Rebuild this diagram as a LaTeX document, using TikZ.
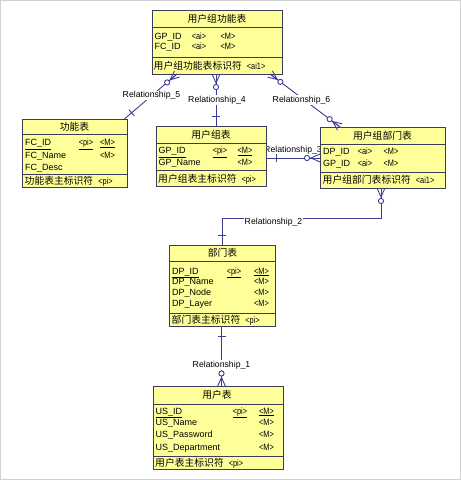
\documentclass[tikz,border=0pt]{standalone}
\usepackage{fontspec}
\setmainfont{Liberation Sans}
\newfontfamily\cjk{Noto Sans CJK SC}
\usetikzlibrary{calc}
\definecolor{boxc}{RGB}{60,60,90}
\definecolor{linec}{RGB}{60,60,150}
\definecolor{fillc}{RGB}{255,255,153}
\newcommand\tg[1]{{\fontsize{9.2}{10}\selectfont\scalebox{0.8}[1]{#1}}}
\newcommand\cj[1]{{\cjk #1}}
\tikzset{
  tbl/.style={draw=boxc, fill=fillc, line width=0.9pt, inner sep=0pt, outer sep=0pt, anchor=north west},
  sepl/.style={draw=boxc, line width=0.9pt},
  ttl/.style={font=\cjk\fontsize{9.8}{11}\selectfont, inner sep=0pt, text height=8.2pt, text depth=1.2pt},
  att/.style={font=\fontsize{9}{10}\selectfont, inner sep=0pt, anchor=west, text height=6.6pt, text depth=1.6pt},
  tgs/.style={inner sep=0pt, text height=6.6pt, text depth=1.6pt},
  idt/.style={font=\fontsize{9.8}{11}\selectfont, inner sep=0pt, anchor=west, text height=8.2pt, text depth=1.4pt},
  rel/.style={draw=linec, line width=0.9pt},
  rlab/.style={font=\fontsize{8.7}{10}\selectfont, fill=white, inner sep=0.6pt},
  rlabn/.style={font=\fontsize{8.7}{10}\selectfont, inner sep=0.6pt},
}
\newcommand\manyend[2]{%
  \draw[rel] (#1) -- ($(#1)!9pt!(#2)$);
  \draw[rel] ($(#1)!4pt!90:(#2)$) -- ($(#1)!9pt!(#2)$) -- ($(#1)!4pt!-90:(#2)$);
  \draw[rel, fill=white] ($(#1)!13pt!(#2)$) circle (2.6pt);
}
\newcommand\oneend[2]{%
  \coordinate (tmpc) at ($(#1)!10pt!(#2)$);
  \draw[rel] ($(tmpc)!4pt!90:(#2)$) -- ($(tmpc)!4pt!-90:(#2)$);
}
\begin{document}
\begin{tikzpicture}[x=1pt,y=-1pt]
\useasboundingbox (0,0) rectangle (461,480);
\draw[black!18] (0.5,0.5) rectangle (460.5,479.5);

% label partly hidden behind the tables
\node[rlabn] (l3) at (293,150) {Relationship\_3};

% ---------- 用户组功能表 ----------
\node[tbl, minimum width=130pt, minimum height=63.5pt] (t1) at (152,10.5) {};
\draw[sepl] (152,27) -- (282,27);
\draw[sepl] (152,57.5) -- (282,57.5);
\node[ttl] (t1t) at (217,18.8) {用户组功能表};
\node[att] (t1a) at (154.5,37) {GP\_ID};
\node[tgs] (t1b) at (199,37) {\tg{<ai>}};
\node[tgs] (t1c) at (228,37) {\tg{<M>}};
\node[att] (t1d) at (154.5,47.3) {FC\_ID};
\node[tgs] (t1e) at (199,47.3) {\tg{<ai>}};
\node[tgs] (t1f) at (228,47.3) {\tg{<M>}};
\node[idt] (t1i) at (153.5,65.8) {\cj{用户组功能表标识符}\hspace{5pt}\tg{<ai1>}};

% ---------- 功能表 ----------
\node[tbl, minimum width=105pt, minimum height=68pt] (t2) at (22,119.3) {};
\draw[sepl] (22,134.3) -- (127,134.3);
\draw[sepl] (22,174.3) -- (127,174.3);
\node[ttl] (t2t) at (74.5,127) {功能表};
\node[att] (t2a) at (25,143.3) {\underline{FC\_ID}};
\node[tgs] (t2b) at (86,143.3) {\tg{\underline{<pi>}}};
\node[tgs] (t2c) at (107.5,143.3) {\tg{\underline{<M>}}};
\node[att] (t2d) at (25,155.7) {FC\_Name};
\node[tgs] (t2e) at (107.5,155.7) {\tg{<M>}};
\node[att] (t2f) at (25,168) {FC\_Desc};
\node[idt] (t2i) at (24.5,181) {\cj{功能表主标识符}\hspace{5pt}\tg{<pi>}};

% ---------- 用户组表 ----------
\node[tbl, minimum width=110pt, minimum height=60pt] (t3) at (156,126.7) {};
\draw[sepl] (156,143.3) -- (266,143.3);
\draw[sepl] (156,170.3) -- (266,170.3);
\node[ttl] (t3t) at (211,135) {用户组表};
\node[att] (t3a) at (158.5,151.2) {\underline{GP\_ID}};
\node[tgs] (t3b) at (220,151.2) {\tg{\underline{<pi>}}};
\node[tgs] (t3c) at (245,151.2) {\tg{\underline{<M>}}};
\node[att] (t3d) at (158.5,163.2) {GP\_Name};
\node[tgs] (t3e) at (245,163.2) {\tg{<M>}};
\node[idt] (t3i) at (158,178.6) {\cj{用户组表主标识符}\hspace{5pt}\tg{<pi>}};

% ---------- 用户组部门表 ----------
\node[tbl, minimum width=125pt, minimum height=61pt] (t4) at (320,127) {};
\draw[sepl] (320,144) -- (445,144);
\draw[sepl] (320,172) -- (445,172);
\node[ttl] (t4t) at (382.5,135.5) {用户组部门表};
\node[att] (t4a) at (323,151.5) {DP\_ID};
\node[tgs] (t4b) at (365,151.5) {\tg{<ai>}};
\node[tgs] (t4c) at (391,151.5) {\tg{<M>}};
\node[att] (t4d) at (323,163.5) {GP\_ID};
\node[tgs] (t4e) at (365,163.5) {\tg{<ai>}};
\node[tgs] (t4f) at (391,163.5) {\tg{<M>}};
\node[idt] (t4i) at (322.5,180.2) {\cj{用户组部门表标识符}\hspace{5pt}\tg{<ai1>}};

% ---------- 部门表 ----------
\node[tbl, minimum width=106.5pt, minimum height=81pt] (t5) at (169,245) {};
\draw[sepl] (169,261) -- (275.5,261);
\draw[sepl] (169,313.5) -- (275.5,313.5);
\node[ttl] (t5t) at (222.5,253) {部门表};
\node[att] (t5a) at (172,271.5) {\underline{DP\_ID}};
\node[tgs] (t5b) at (234,271.5) {\tg{\underline{<pi>}}};
\node[tgs] (t5c) at (261.5,271.5) {\tg{\underline{<M>}}};
\node[att] (t5d) at (172,282) {DP\_Name};
\node[tgs] (t5e) at (261.5,282) {\tg{<M>}};
\node[att] (t5f) at (172,292.5) {DP\_Node};
\node[tgs] (t5g) at (261.5,292.5) {\tg{<M>}};
\node[att] (t5h) at (172,303.5) {DP\_Layer};
\node[tgs] (t5j) at (261.5,303.5) {\tg{<M>}};
\node[idt] (t5i) at (171.5,320) {\cj{部门表主标识符}\hspace{5pt}\tg{<pi>}};

% ---------- 用户表 ----------
\node[tbl, minimum width=130pt, minimum height=83pt] (t6) at (153,386.5) {};
\draw[sepl] (153,404) -- (283,404);
\draw[sepl] (153,456) -- (283,456);
\node[ttl] (t6t) at (217,395.3) {用户表};
\node[att] (t6a) at (155.5,411.7) {\underline{US\_ID}};
\node[tgs] (t6b) at (240,411.7) {\tg{\underline{<pi>}}};
\node[tgs] (t6c) at (266.5,411.7) {\tg{\underline{<M>}}};
\node[att] (t6d) at (155.5,423.3) {US\_Name};
\node[tgs] (t6e) at (266.5,423.3) {\tg{<M>}};
\node[att] (t6f) at (155.5,435) {US\_Password};
\node[tgs] (t6g) at (266.5,435) {\tg{<M>}};
\node[att] (t6h) at (155.5,447.5) {US\_Department};
\node[tgs] (t6j) at (266.5,447.5) {\tg{<M>}};
\node[idt] (t6i) at (155,463) {\cj{用户表主标识符}\hspace{5pt}\tg{<pi>}};

% ---------- connector end points ----------
\coordinate (r5a) at ($(t1.south west)+(25,0)$);
\coordinate (r5b) at ($(t2.north east)+(-3,0)$);
\coordinate (r4a) at ($(t1.south west)+(64,0)$);
\coordinate (r4b) at ($(t3.north west)+(60,0)$);
\coordinate (r6a) at ($(t1.south east)+(-12,0)$);
\coordinate (r6b) at ($(t4.north west)+(20,0)$);
\coordinate (r3a) at ($(t3.north east)+(0,31.3)$);
\coordinate (r3b) at ($(t4.north west)+(0,31)$);
\coordinate (r2a) at ($(t4.south west)+(61,0)$);
\coordinate (r2k) at ($(r2a)+(0,30)$);
\coordinate (r2b) at ($(t5.north west)+(53,0)$);
\coordinate (r2j) at ($(r2b)+(0,-27)$);
\coordinate (r1a) at ($(t5.south west)+(52.5,0)$);
\coordinate (r1b) at ($(t6.north west)+(68.5,0)$);

% ---------- connectors ----------
\draw[rel] (r5a) -- (r5b);
\draw[rel] (r4a) -- (r4b);
\draw[rel] (r6a) -- (r6b);
\draw[rel] (r3a) -- (r3b);
\draw[rel] (r2a) -- (r2k) -| (r2b);
\draw[rel] (r1a) -- (r1b);

\manyend{r5a}{r5b}
\oneend{r5b}{r5a}
\manyend{r4a}{r4b}
\oneend{r4b}{r4a}
\manyend{r6a}{r6b}
\manyend{r6b}{r6a}
\oneend{r3a}{r3b}
\manyend{r3b}{r3a}
\manyend{r2a}{r2k}
\oneend{r2b}{r2j}
\oneend{r1a}{r1b}
\manyend{r1b}{r1a}

% ---------- labels ----------
\node[rlab] (l5) at (151.5,95.5) {Relationship\_5};
\node[rlab] (l4) at (217,100) {Relationship\_4};
\node[rlab] (l6) at (301.5,100) {Relationship\_6};
\node[rlab] (l2) at (273.5,222) {Relationship\_2};
\node[rlab] (l1) at (221.5,365) {Relationship\_1};
\end{tikzpicture}
\end{document}
